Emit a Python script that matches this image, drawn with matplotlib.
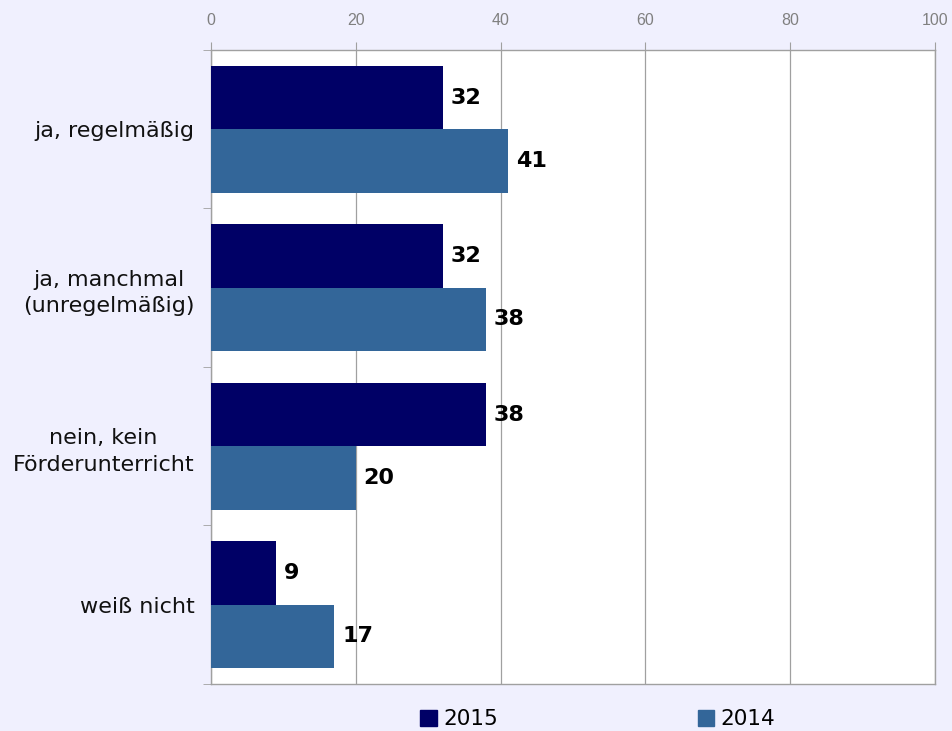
import matplotlib.pyplot as plt
from matplotlib.patches import Patch
import numpy as np

# Data
categories = ["ja, regelmäßig", "ja, manchmal\n(unregelmäßig)", "nein, kein\nFörderunterricht", "weiß nicht"]
values_2015 = [32, 32, 38, 9]
values_2014 = [41, 38, 20, 17]
series_names = ["2015", "2014"]
x_ticks = [0, 20, 40, 60, 80, 100]

col_2015 = "#000066"
col_2014 = "#336699"
bg = "#F0F0FE"
grey = "#A0A0A0"

fig = plt.figure(figsize=(9.52, 7.31), dpi=100, facecolor=bg)
ax = fig.add_axes([0.2216, 0.0643, 0.7605, 0.8673])
ax.set_facecolor("white")

y = np.arange(len(categories))
h = 0.4
bars1 = ax.barh(y - h / 2, values_2015, height=h, color=col_2015, zorder=3)
bars2 = ax.barh(y + h / 2, values_2014, height=h, color=col_2014, zorder=3)

for bars in (bars1, bars2):
    for b in bars:
        ax.text(b.get_width() + 1.1, b.get_y() + b.get_height() / 2, f"{b.get_width():.0f}",
                va="center", ha="left", fontsize=16, fontweight="bold", color="black")

ax.set_xlim(0, 100)
ax.set_ylim(len(categories) - 0.5, -0.5)
ax.set_xticks(x_ticks)
ax.xaxis.tick_top()
ax.tick_params(axis="x", colors=grey, labelcolor="#808080", length=6, pad=10,
               labelsize=11.5)
for lab in ax.get_xticklabels():
    lab.set_family("Liberation Sans")
ax.grid(axis="x", color=grey, linewidth=0.9, zorder=0)

ax.set_yticks(y)
ax.set_yticklabels(categories, fontsize=16, multialignment="center", color="#111111",
                   linespacing=1.4)
ax.tick_params(axis="y", which="major", length=0, pad=12)
ax.set_yticks(np.arange(len(categories) + 1) - 0.5, minor=True)
ax.tick_params(axis="y", which="minor", length=6, color=grey)

for s in ax.spines.values():
    s.set_color(grey)
    s.set_linewidth(1.0)

handles = [Patch(color=col_2015), Patch(color=col_2014)]
fig.legend(handles, series_names, loc="center", bbox_to_anchor=(0.628, 0.016), ncol=2,
           frameon=False, fontsize=15.5, handlelength=0.75, handleheight=0.75,
           handletextpad=0.3, columnspacing=9.3)

plt.savefig("out.png", dpi=100, facecolor=bg)
